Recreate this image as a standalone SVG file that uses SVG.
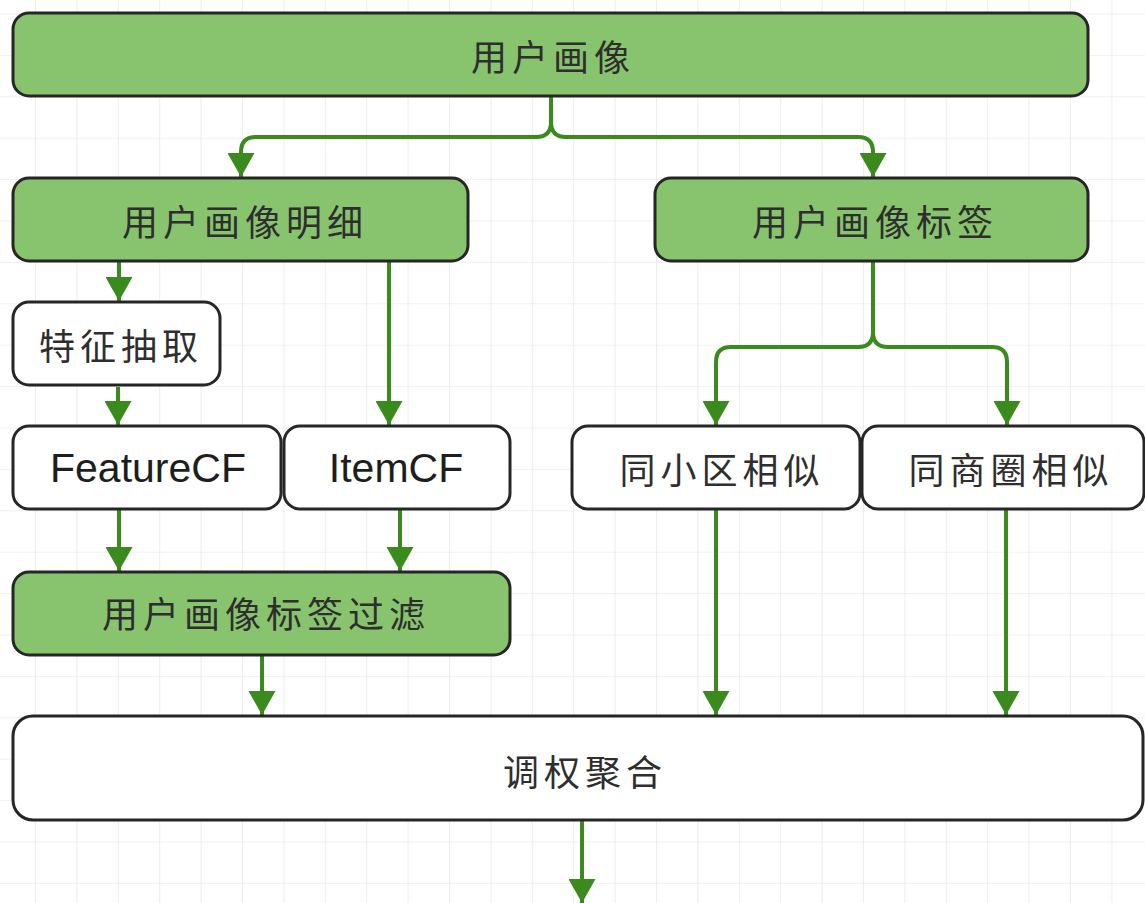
<svg xmlns="http://www.w3.org/2000/svg" width="1145" height="903" viewBox="0 0 1145 903">
<style>
.g{fill:#88c46e;stroke:#262626;stroke-width:3}
.w{fill:#ffffff;stroke:#262626;stroke-width:3}
.t{font-family:"Noto Sans CJK SC","Noto Sans",sans-serif;font-size:36px;fill:#2e2e2e;letter-spacing:5px;text-anchor:middle;dominant-baseline:central}
.l{font-family:"Liberation Sans",Arial,sans-serif;font-size:41px;fill:#1e1e1e;text-anchor:middle;dominant-baseline:central}
.c{fill:none;stroke:#3b8a1e;stroke-width:4;marker-end:url(#ah)}
</style>
<defs>
<pattern id="grid" x="35" y="13.5" width="41.4" height="41.4" patternUnits="userSpaceOnUse">
<path d="M0,0 V41.4 M0,0 H41.4" fill="none" stroke="#e2e2e2" stroke-width="1.2"/>
</pattern>
<marker id="ah" markerUnits="userSpaceOnUse" viewBox="0 0 24 27" refX="24" refY="13.5" markerWidth="24" markerHeight="27" orient="auto">
<path d="M0,0 L24,13.5 L0,27 Z" fill="#3b8a1e"/>
</marker>
</defs>
<rect width="1145" height="903" fill="#ffffff"/>
<rect width="1145" height="903" fill="url(#grid)"/>
<g id="connectors">
<path class="c" d="M551,97 V122 Q551,137 536,137 H256 Q241,137 241,152 V177"/>
<path class="c" d="M551,122 Q551,137 566,137 H858 Q873,137 873,152 V177"/>
<path class="c" d="M119,262 V301"/>
<path class="c" d="M389,262 V425"/>
<path class="c" d="M118,387 V425"/>
<path class="c" d="M119,510 V571"/>
<path class="c" d="M400,510 V571"/>
<path class="c" d="M262,656 V715"/>
<path class="c" d="M873,262 V332 Q873,347 858,347 H731 Q716,347 716,362 V425"/>
<path class="c" d="M873,332 Q873,347 888,347 H992 Q1007,347 1007,362 V425"/>
<path class="c" d="M716,510 V715"/>
<path class="c" d="M1006,510 V715"/>
<path class="c" d="M582,821 V903"/>
</g>
<g id="n1"><rect class="g" x="13" y="13" width="1075" height="83" rx="16"/><text class="t" x="553" y="55">用户画像</text></g>
<g id="n2"><rect class="g" x="13" y="178" width="455" height="83" rx="16"/><text class="t" x="245" y="220">用户画像明细</text></g>
<g id="n3"><rect class="g" x="655" y="178" width="433" height="83" rx="16"/><text class="t" x="875" y="220">用户画像标签</text></g>
<g id="n4"><rect class="w" x="13" y="302" width="207" height="83" rx="16"/><text class="t" x="121" y="344">特征抽取</text></g>
<g id="n5"><rect class="w" x="13" y="426" width="268" height="83" rx="16"/><text class="l" x="148" y="468">FeatureCF</text></g>
<g id="n6"><rect class="w" x="284" y="426" width="226" height="83" rx="16"/><text class="l" x="396" y="468">ItemCF</text></g>
<g id="n7"><rect class="w" x="572" y="426" width="288" height="83" rx="16"/><text class="t" x="722" y="468">同小区相似</text></g>
<g id="n8"><rect class="w" x="862" y="426" width="282" height="83" rx="16"/><text class="t" x="1011" y="468">同商圈相似</text></g>
<g id="n9"><rect class="g" x="13" y="572" width="497" height="83" rx="16"/><text class="t" x="266" y="612">用户画像标签过滤</text></g>
<g id="n10"><rect class="w" x="13" y="716" width="1130" height="104" rx="20"/><text class="t" x="585" y="770">调权聚合</text></g>
</svg>
